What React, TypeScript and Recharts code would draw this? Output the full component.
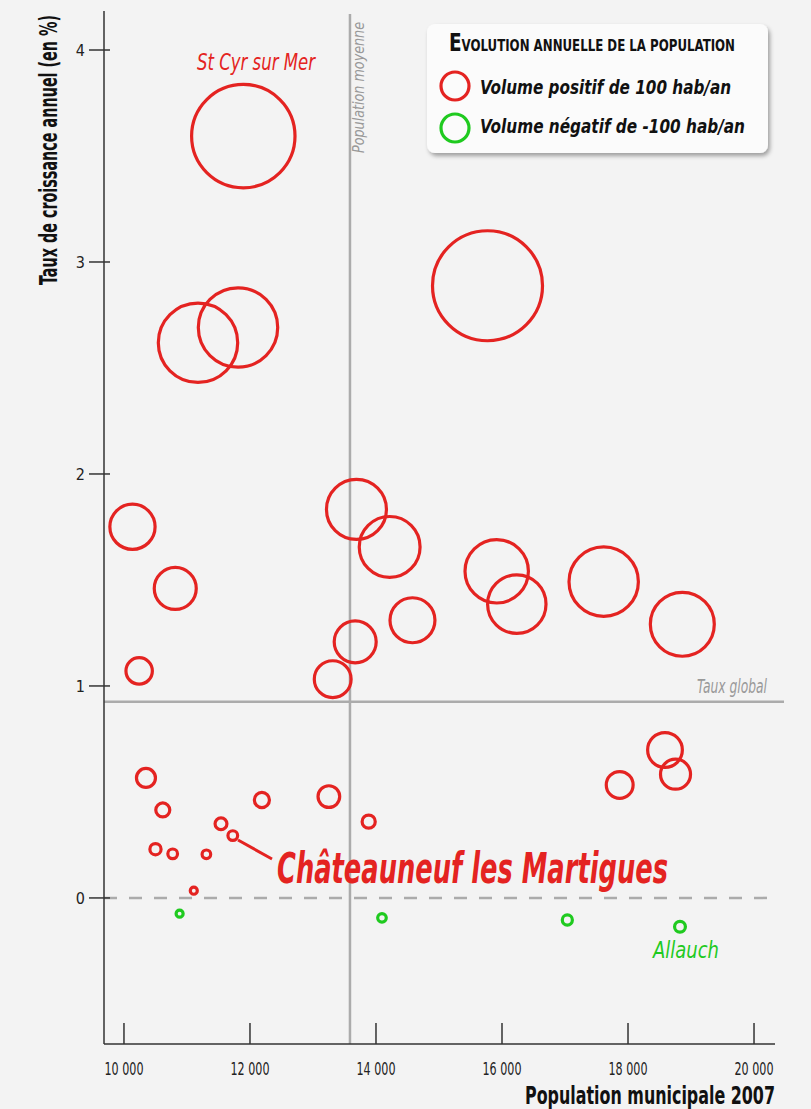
import type React from 'react';
import { ScatterChart, Scatter, XAxis, YAxis, ZAxis, ReferenceLine } from 'recharts';

// communes with growing population (red rings)
const gainPopulation = [
  11894, 15770, 11175, 11810, 10135, 10814, 10241, 13690, 14217, 13670, 13313, 14579, 15916, 16235,
  17614, 18862, 18587, 18754, 17868, 10349, 10616, 10500, 10773, 11308, 11108, 11540, 11727, 12189,
  13252, 13884,
];
const gainRate = [
  3.594, 2.888, 2.619, 2.691, 1.751, 1.46, 1.071, 1.833, 1.656, 1.208, 1.032, 1.31, 1.541, 1.386,
  1.492, 1.291, 0.698, 0.584, 0.533, 0.566, 0.415, 0.23, 0.208, 0.206, 0.034, 0.35, 0.294, 0.462,
  0.478, 0.36,
];
const gainVolume = [
  1364, 1543, 804, 804, 261, 225, 89, 459, 472, 225, 173, 258, 513, 435, 614, 522, 154, 115, 92, 46,
  25, 16, 12, 9.4, 6.3, 18, 12, 29, 60, 22,
];

// communes losing population (green rings)
const lossPopulation = [10883, 14095, 17037, 18825];
const lossRate = [-0.074, -0.094, -0.104, -0.136];
const lossVolume = [-6.3, -9.4, -13, -15];

const xTicks = [10000, 12000, 14000, 16000, 18000, 20000];
const yTicks = [0, 1, 2, 3, 4];
const averagePopulation = 13587;
const globalRate = 0.925;

const RED = '#e42321';
const GREEN = '#1fca1f';
const GREY = '#ababab';
const NARROW = "'Liberation Sans Narrow', 'DejaVu Sans Condensed', 'Open Sans', sans-serif";

const gains = gainPopulation.map((pop, i) => ({ pop, rate: gainRate[i], volume: Math.abs(gainVolume[i]) }));
const losses = lossPopulation.map((pop, i) => ({ pop, rate: lossRate[i], volume: Math.abs(lossVolume[i]) }));

// 100 hab/an -> ring of radius 14px, area proportional to volume
const ZMAX = 2000;
const AREA_MAX = Math.PI * 14 * 14 * (ZMAX / 100);

function Ring(props: any) {
  const r = props.size ? Math.sqrt(props.size / Math.PI) : props.width / 2;
  return <circle cx={props.cx} cy={props.cy} r={r} fill='none' stroke={props.color} strokeWidth={3.2} />;
}

function XTick(props: any) {
  const { x, y, payload } = props;
  const v = payload.value as number;
  const label = `${Math.floor(v / 1000)} ${String(v % 1000).padStart(3, '0')}`;
  return (
    <g>
      <line x1={x} x2={x} y1={y} y2={y - 21} stroke='#333' strokeWidth={1.5} />
      <text x={x} y={y + 31} textAnchor='middle' fontFamily={NARROW} fontSize={17} fill='#222' textLength={39} lengthAdjust='spacingAndGlyphs'>
        {label}
      </text>
    </g>
  );
}

function YTick(props: any) {
  const { x, y, payload } = props;
  return (
    <g>
      <line x1={x - 15} x2={x + 6} y1={y} y2={y} stroke='#333' strokeWidth={1.5} />
      <text x={x - 19} y={y + 6} textAnchor='end' fontFamily={NARROW} fontSize={16} fill='#222'>
        {payload.value}
      </text>
    </g>
  );
}

function Overlay(): React.JSX.Element {
  return (
    <svg width={811} height={1109} style={{ position: 'absolute', left: 0, top: 0, pointerEvents: 'none' }}>
      <defs>
        <filter id='shadow' x='-10%' y='-10%' width='130%' height='140%'>
          <feDropShadow dx='2' dy='3' stdDeviation='2' floodColor='#000' floodOpacity='0.35' />
        </filter>
      </defs>

      {/* axis titles */}
      <text transform='rotate(-90 57 150)' x={57} y={150} textAnchor='middle' fontFamily={NARROW} fontWeight='bold' fontSize={24} fill='#111' textLength={270} lengthAdjust='spacingAndGlyphs'>
        Taux de croissance annuel (en %)
      </text>
      <text x={775} y={1104} textAnchor='end' fontFamily={NARROW} fontWeight='bold' fontSize={25} fill='#111' textLength={250} lengthAdjust='spacingAndGlyphs'>
        Population municipale 2007
      </text>

      {/* reference line captions */}
      <text x={767} y={693} textAnchor='end' fontFamily={NARROW} fontStyle='italic' fontSize={19} fill='#999' textLength={70} lengthAdjust='spacingAndGlyphs'>
        Taux global
      </text>
      <text transform='rotate(-90 364 87.5)' x={364} y={87.5} textAnchor='middle' fontFamily={NARROW} fontStyle='italic' fontSize={15} fill='#999' textLength={131} lengthAdjust='spacingAndGlyphs'>
        Population moyenne
      </text>

      {/* commune annotations */}
      <text x={256} y={70} textAnchor='middle' fontFamily={NARROW} fontStyle='italic' fontSize={23} fill={RED} textLength={118} lengthAdjust='spacingAndGlyphs'>
        St Cyr sur Mer
      </text>
      <text x={686} y={958} textAnchor='middle' fontFamily={NARROW} fontStyle='italic' fontSize={23} fill={GREEN} textLength={66} lengthAdjust='spacingAndGlyphs'>
        Allauch
      </text>
      <line x1={238} y1={840} x2={272} y2={859} stroke={RED} strokeWidth={3} />
      <text x={277} y={883} fontFamily={NARROW} fontStyle='italic' fontWeight='bold' fontSize={42} fill={RED} textLength={391} lengthAdjust='spacingAndGlyphs'>
        Châteauneuf les Martigues
      </text>

      {/* legend */}
      <rect x={427} y={24} width={341} height={129} rx={8} fill='#fbfbfb' filter='url(#shadow)' />
      <text x={449} y={51} fontFamily={NARROW} fontWeight='bold' fill='#111' textLength={286} lengthAdjust='spacingAndGlyphs'>
        <tspan fontSize={25}>E</tspan>
        <tspan fontSize={16}>VOLUTION ANNUELLE DE LA POPULATION</tspan>
      </text>
      <circle cx={455} cy={86} r={14} fill='none' stroke={RED} strokeWidth={3.2} />
      <text x={480} y={94} fontFamily={NARROW} fontStyle='italic' fontWeight='bold' fontSize={20} fill='#111' textLength={251} lengthAdjust='spacingAndGlyphs'>
        Volume positif de 100 hab/an
      </text>
      <circle cx={455} cy={128} r={14} fill='none' stroke={GREEN} strokeWidth={3.2} />
      <text x={480} y={133} fontFamily={NARROW} fontStyle='italic' fontWeight='bold' fontSize={20} fill='#111' textLength={265} lengthAdjust='spacingAndGlyphs'>
        Volume négatif de -100 hab/an
      </text>
    </svg>
  );
}

export default function App(): React.JSX.Element {
  return (
    <div style={{ position: 'relative', width: 811, height: 1109, background: '#f3f3f3' }}>
      <style>{'body{margin:0;background:#f3f3f3}'}</style>
      <ScatterChart width={811} height={1109} margin={{ top: 11, right: 36, bottom: 0, left: 0 }}>
        <XAxis
          type='number'
          dataKey='pop'
          domain={[9683, 20333]}
          ticks={xTicks}
          allowDataOverflow
          height={65}
          axisLine={{ stroke: '#333', strokeWidth: 1.5 }}
          tickLine={false}
          tickSize={0}
          tickMargin={0}
          tick={<XTick />}
        />
        <YAxis
          type='number'
          dataKey='rate'
          domain={[-0.689, 4.184]}
          ticks={yTicks}
          allowDataOverflow
          width={104}
          axisLine={{ stroke: '#333', strokeWidth: 1.5 }}
          tickLine={false}
          tickSize={0}
          tickMargin={0}
          tick={<YTick />}
        />
        <ZAxis type='number' dataKey='volume' domain={[0, ZMAX]} range={[0, AREA_MAX]} />
        <ReferenceLine y={0} stroke={GREY} strokeWidth={2.5} strokeDasharray='13 12' />
        <ReferenceLine
          segment={[{ x: 9683, y: globalRate }, { x: 20476, y: globalRate }]}
          ifOverflow='visible'
          stroke={GREY}
          strokeWidth={2.5}
        />
        <ReferenceLine
          segment={[{ x: averagePopulation, y: 4.17 }, { x: averagePopulation, y: -0.689 }]}
          ifOverflow='visible'
          stroke={GREY}
          strokeWidth={2.5}
        />
        <Scatter data={gains} isAnimationActive={false} shape={(p: any) => <Ring {...p} color={RED} />} />
        <Scatter data={losses} isAnimationActive={false} shape={(p: any) => <Ring {...p} color={GREEN} />} />
      </ScatterChart>
      <Overlay />
    </div>
  );
}
